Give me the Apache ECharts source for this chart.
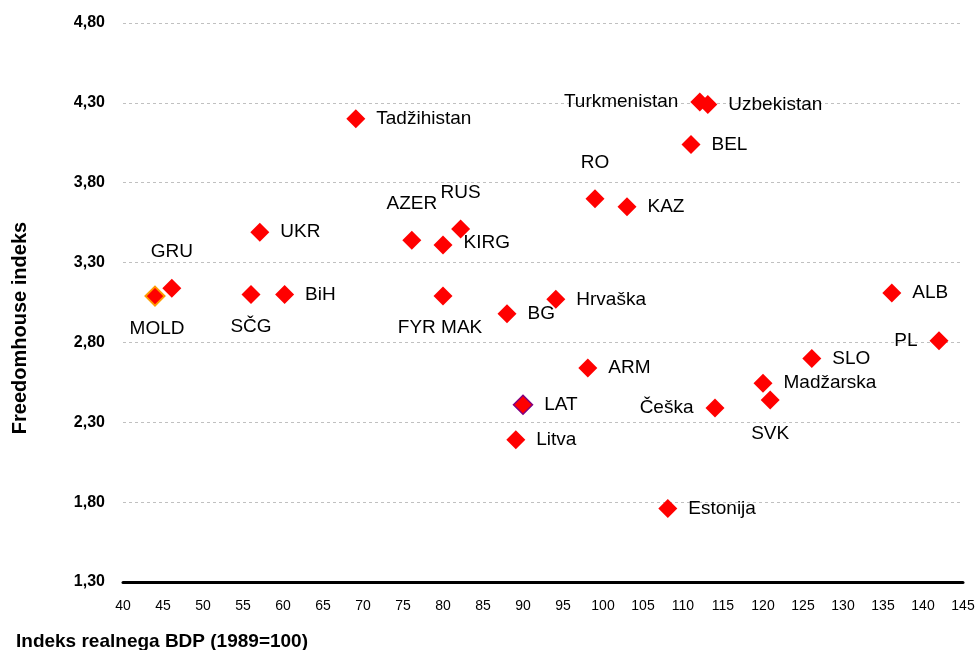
<!DOCTYPE html>
<html>
<head>
<meta charset="utf-8">
<script src="https://cdn.jsdelivr.net/npm/echarts@6/dist/echarts.min.js"></script>
<style>
  html, body { margin: 0; padding: 0; background: #fff; }
  #chart { width: 979px; height: 650px; }
</style>
</head>
<body>
<div id="chart"></div>
<script>
// Freedomhouse indeks vs. indeks realnega BDP
const countries = ['MOLD', 'GRU', 'UKR', 'SČG', 'BiH', 'Tadžihistan', 'AZER', 'RUS', 'KIRG', 'FYR MAK',
  'BG', 'Hrvaška', 'LAT', 'Litva', 'ARM', 'RO', 'KAZ', 'Estonija', 'Turkmenistan', 'Uzbekistan',
  'BEL', 'Češka', 'Madžarska', 'SVK', 'SLO', 'ALB', 'PL'];
const gdpIndex = [44.0, 46.1, 57.1, 56.0, 60.2, 69.1, 76.1, 82.2, 80.0, 80.0,
  88.0, 94.1, 90.0, 89.1, 98.1, 99.0, 103.0, 108.1, 112.1, 113.1,
  111.0, 114.0, 120.0, 120.9, 126.1, 136.1, 142.0];
const freedomIndex = [3.09, 3.14, 3.49, 3.10, 3.10, 4.20, 3.44, 3.51, 3.41, 3.09,
  2.98, 3.07, 2.41, 2.19, 2.64, 3.70, 3.65, 1.76, 4.305, 4.29,
  4.04, 2.39, 2.545, 2.44, 2.70, 3.11, 2.81];

// kje stoji napis ob točki (privzeto desno)
const labelSide = {
  'MOLD': 'bottom', 'GRU': 'top', 'SČG': 'bottom', 'AZER': 'top', 'RUS': 'top',
  'FYR MAK': 'bottom', 'RO': 'top', 'SVK': 'bottom',
  'Turkmenistan': 'left', 'Češka': 'left', 'PL': 'left'
};
const labelShift = { 'MOLD': [2, 0], 'FYR MAK': [-3, 0], 'KIRG': [0, -2], 'SVK': [0, 2] };

const markerStyle = {
  'MOLD': { color: '#ff0000', borderColor: '#ff9900', borderWidth: 2, opacity: 1 },
  'LAT': { color: '#ff0000', borderColor: '#800080', borderWidth: 1.5, opacity: 1 }
};

const points = countries.map((name, i) => {
  const side = labelSide[name] || 'right';
  const dist = side === 'top' ? 17 : side === 'bottom' ? 13 : side === 'left' ? 12 : 11;
  return {
    name,
    value: [gdpIndex[i], freedomIndex[i]],
    itemStyle: markerStyle[name] || { color: '#ff0000', opacity: 1 },
    label: { position: side, distance: dist, offset: labelShift[name] || [0, 0] }
  };
});

const chart = echarts.init(document.getElementById('chart'));
chart.setOption({
  animation: false,
  backgroundColor: '#ffffff',
  grid: { left: 123, right: 16, top: 23, bottom: 68, containLabel: false },
  title: {
    text: 'Indeks realnega BDP (1989=100)',
    left: 11, top: 627,
    textStyle: { fontFamily: 'Liberation Sans, Arial, sans-serif', fontSize: 19, fontWeight: 'bold', color: '#000' }
  },
  graphic: [{
    type: 'text',
    x: 20, y: 328,
    rotation: Math.PI / 2,
    style: {
      text: 'Freedomhouse indeks',
      fill: '#000',
      font: 'bold 20px "Liberation Sans", Arial, sans-serif',
      align: 'center',
      verticalAlign: 'middle'
    }
  }],
  xAxis: {
    type: 'value',
    min: 40, max: 145, interval: 5,
    axisLine: { show: true, lineStyle: { color: '#000', width: 3 } },
    axisTick: { show: false },
    splitLine: { show: false },
    axisLabel: {
      color: '#000', margin: 17,
      fontFamily: 'Liberation Sans Narrow, Arial Narrow, sans-serif', fontSize: 14
    }
  },
  yAxis: {
    type: 'value',
    min: 1.3, max: 4.8, interval: 0.5,
    axisLine: { show: false },
    axisTick: { show: false },
    splitLine: { show: true, lineStyle: { color: '#c0c0c0', type: [3, 3], width: 1 } },
    axisLabel: {
      color: '#000', margin: 18,
      fontFamily: 'Liberation Sans, Arial, sans-serif', fontSize: 16, fontWeight: 'bold',
      formatter: v => v.toFixed(2).replace('.', ',')
    }
  },
  series: [{
    type: 'scatter',
    symbol: 'diamond',
    symbolSize: 19,
    data: points,
    label: {
      show: true,
      formatter: '{b}',
      color: '#000',
      fontFamily: 'Liberation Sans, Arial, sans-serif',
      fontSize: 19
    },
    emphasis: { disabled: true }
  }]
});
</script>
</body>
</html>
